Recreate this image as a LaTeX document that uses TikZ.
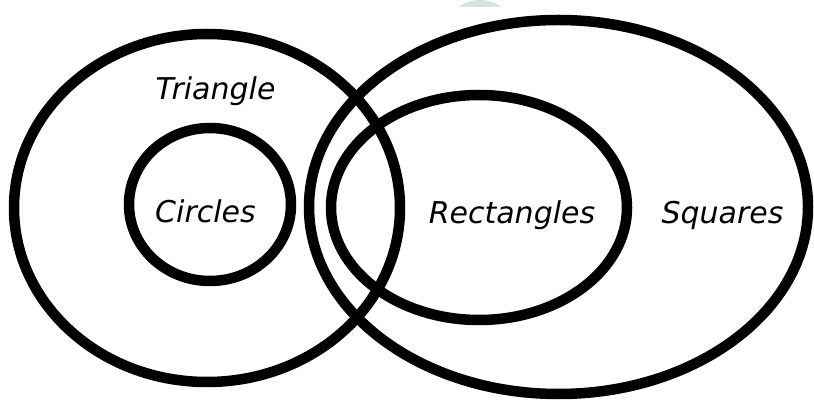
\documentclass[tikz,border=0pt]{standalone}
\usepackage{fontspec}
\setmainfont{DejaVu Sans}
\begin{document}
\begin{tikzpicture}[x=1pt,y=-1pt,
  ring/.style={draw=black,line width=10.5pt},
  lbl/.style={font=\fontsize{30}{36}\selectfont\itshape,anchor=base,inner sep=0pt}]
\useasboundingbox (0,0) rectangle (814,403);
\fill[white] (0,0) rectangle (814,403);
% faint watermark at top
\begin{scope}
\clip (0,0) rectangle (814,7);
\fill[fill={rgb,255:red,214;green,228;blue,224}] (480,40) ellipse [x radius=38, y radius=40];
\end{scope}
\draw[ring] (207,208) ellipse [x radius=193, y radius=174];
\draw[ring] (210,204.5) ellipse [x radius=81, y radius=76.5];
\draw[ring] (558.5,207) ellipse [x radius=249.5, y radius=187];
\draw[ring] (479,207.5) ellipse [x radius=148, y radius=112.5];
\node[lbl] (tri) at (215.5,100) {Triangle};
\node[lbl] (cir) at (205.5,223) {Circles};
\node[lbl] (rec) at (512,224) {Rectangles};
\node[lbl] (squ) at (722.5,224) {Squares};
\end{tikzpicture}
\end{document}
